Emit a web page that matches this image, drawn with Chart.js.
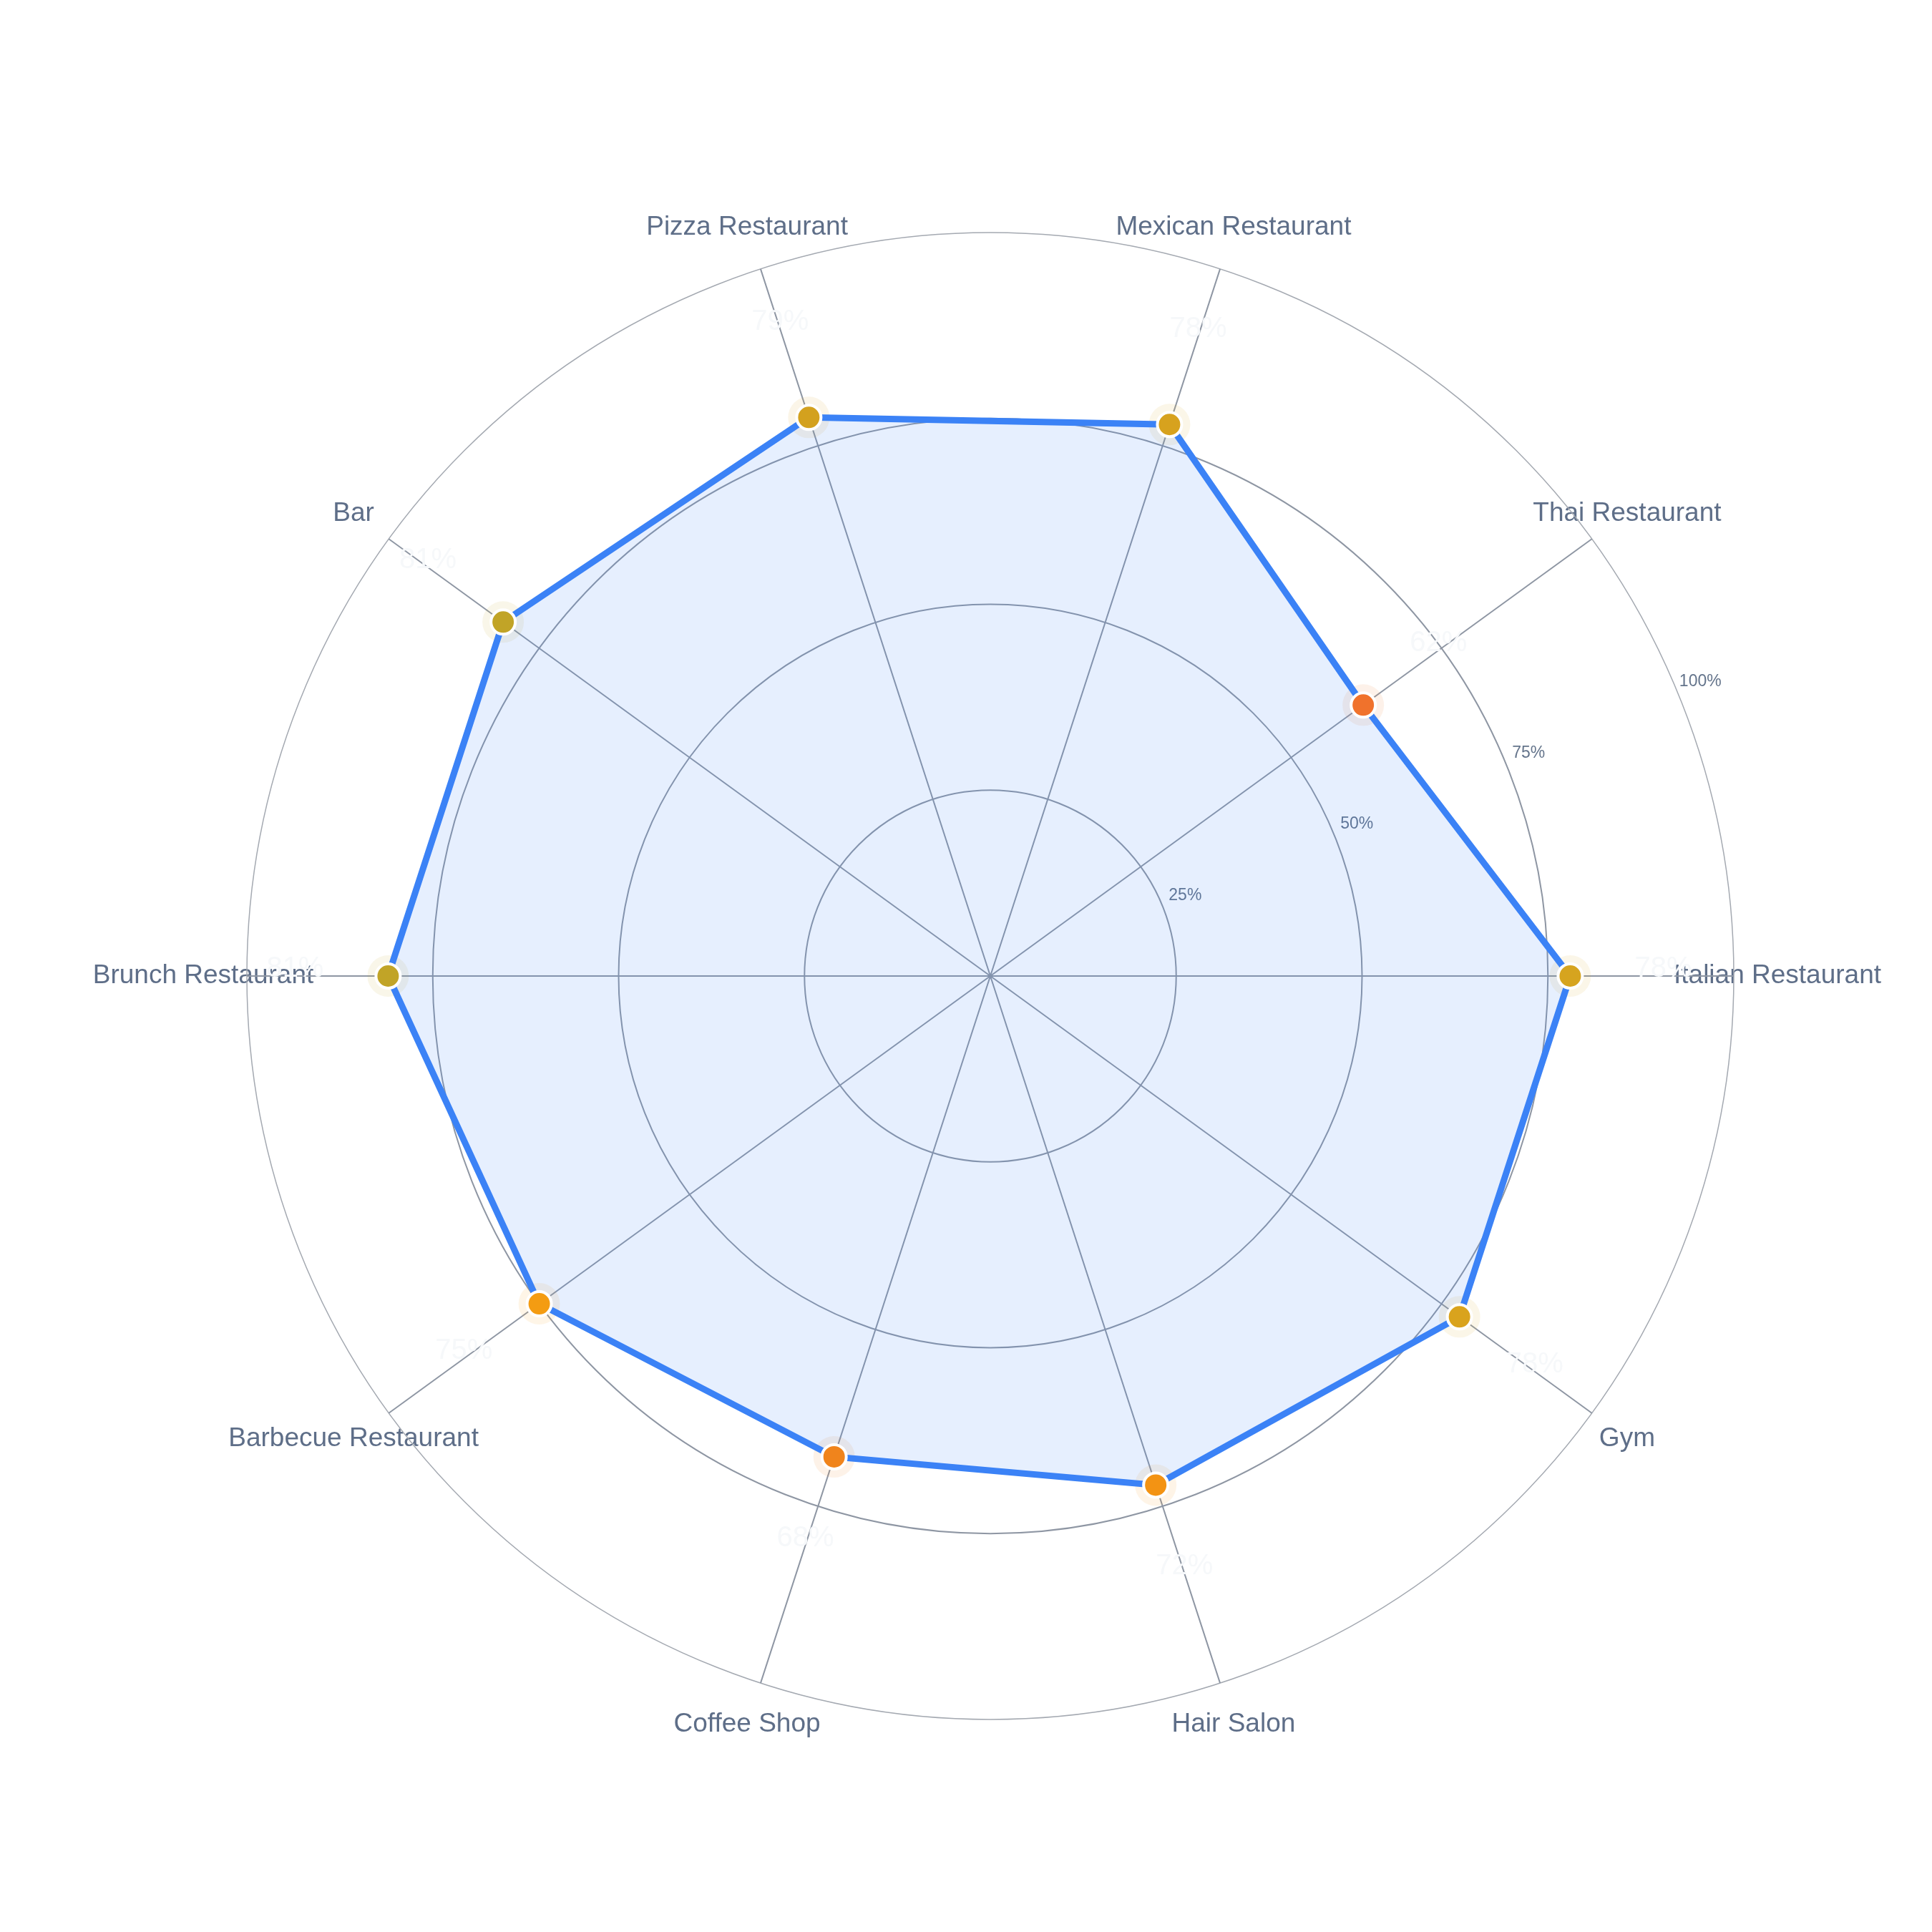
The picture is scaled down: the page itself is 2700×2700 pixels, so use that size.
<!DOCTYPE html>
<html>
<head>
<meta charset="utf-8">
<script src="https://cdn.jsdelivr.net/npm/chart.js@4.4.1/dist/chart.umd.min.js"></script>
<style>
  html, body { margin: 0; padding: 0; background: #ffffff; }
  #wrap { width: 2700px; height: 2700px; }
</style>
</head>
<body>
<div id="wrap"><canvas id="c" width="2700" height="2700"></canvas></div>
<script>
// Categories listed counter-clockwise starting at the right (east) axis, as in the picture
const categories = ['Italian Restaurant', 'Thai Restaurant', 'Mexican Restaurant', 'Pizza Restaurant', 'Bar',
  'Brunch Restaurant', 'Barbecue Restaurant', 'Coffee Shop', 'Hair Salon', 'Gym'];
const scores = [78, 62, 78, 79, 81, 81, 75, 68, 72, 78];
const tickValues = [25, 50, 75, 100];
const tickLabels = ['25%', '50%', '75%', '100%'];
const pointColors = ['#d6a41f', '#f0722c', '#d7a21e', '#d3a11e', '#c1a427',
  '#c1a427', '#f49c12', '#f0841c', '#f39313', '#d9a31d'];

// Chart.js goes clockwise; reorder so the picture's counter-clockwise order is kept
const order = [0].concat(categories.map((_, i) => i).slice(1).reverse());
const labels = order.map(i => categories[i]);
const values = order.map(i => scores[i]);
const colors = order.map(i => pointColors[i]);

function hexA(hex, a) {
  const n = parseInt(hex.slice(1), 16);
  return 'rgba(' + ((n >> 16) & 255) + ',' + ((n >> 8) & 255) + ',' + (n & 255) + ',' + a + ')';
}

const FONT = "'Helvetica Neue', Helvetica, Arial, 'Liberation Sans', sans-serif";

const labelPlugin = {
  id: 'customLabels',
  beforeDraw(chart) {
    const s = chart.scales.r;
    const ctx = chart.ctx;
    ctx.save();
    // category labels centred just outside the outer ring
    ctx.font = '37px ' + FONT;
    ctx.fillStyle = '#5e6e88';
    ctx.textAlign = 'center';
    ctx.textBaseline = 'middle';
    labels.forEach((lab, i) => {
      const p = s.getPointPosition(i, s.drawingArea + 61);
      ctx.fillText(lab, p.x, p.y);
    });
    // tick labels along a 22.5° diagonal
    ctx.font = '23px ' + FONT;
    ctx.fillStyle = '#64748b';
    const a = 22.5 * Math.PI / 180;
    tickValues.forEach((v, k) => {
      const d = s.getDistanceFromCenterForValue(v) + 35;
      ctx.fillText(tickLabels[k], s.xCenter + Math.cos(a) * d, s.yCenter - Math.sin(a) * d);
    });
    ctx.restore();
  },
  afterDatasetsDraw(chart) {
    const s = chart.scales.r;
    const ctx = chart.ctx;
    ctx.save();
    ctx.font = '40px ' + FONT;
    ctx.fillStyle = '#f6f8fa';
    ctx.textAlign = 'center';
    ctx.textBaseline = 'middle';
    values.forEach((v, i) => {
      const p = s.getPointPosition(i, s.getDistanceFromCenterForValue(v) + 130);
      ctx.fillText(v + '%', p.x, p.y - 10);
    });
    ctx.restore();
  }
};

new Chart(document.getElementById('c'), {
  type: 'radar',
  data: {
    labels: labels,
    datasets: [
      {
        label: 'Score',
        data: values,
        borderColor: '#3b82f6',
        borderWidth: 9,
        backgroundColor: 'rgba(59,130,246,0.13)',
        fill: true,
        tension: 0,
        pointRadius: 17,
        pointBorderWidth: 4,
        pointBorderColor: '#ffffff',
        pointBackgroundColor: colors,
        pointHoverRadius: 17
      },
      {
        label: 'halo',
        data: values,
        showLine: false,
        fill: false,
        borderWidth: 0,
        pointRadius: 29,
        pointBorderWidth: 0,
        pointBackgroundColor: colors.map(c => hexA(c, 0.1)),
        pointHoverRadius: 29
      }
    ]
  },
  options: {
    responsive: false,
    devicePixelRatio: 1,
    animation: false,
    events: [],
    layout: { padding: { left: 345, right: 277, top: 325, bottom: 297 } },
    plugins: { legend: { display: false }, tooltip: { enabled: false } },
    scales: {
      r: {
        min: 0,
        max: 100,
        startAngle: 90,
        ticks: { display: false, stepSize: 25 },
        pointLabels: { display: false },
        grid: {
          circular: true,
          color: ctx => (ctx.tick && ctx.tick.value === 100) ? '#a4a9b1' : '#8e96a3',
          lineWidth: ctx => (ctx.tick && ctx.tick.value === 100) ? 1.5 : 2
        },
        angleLines: { color: '#8e96a3', lineWidth: 2 }
      }
    }
  },
  plugins: [labelPlugin]
});
</script>
</body>
</html>
